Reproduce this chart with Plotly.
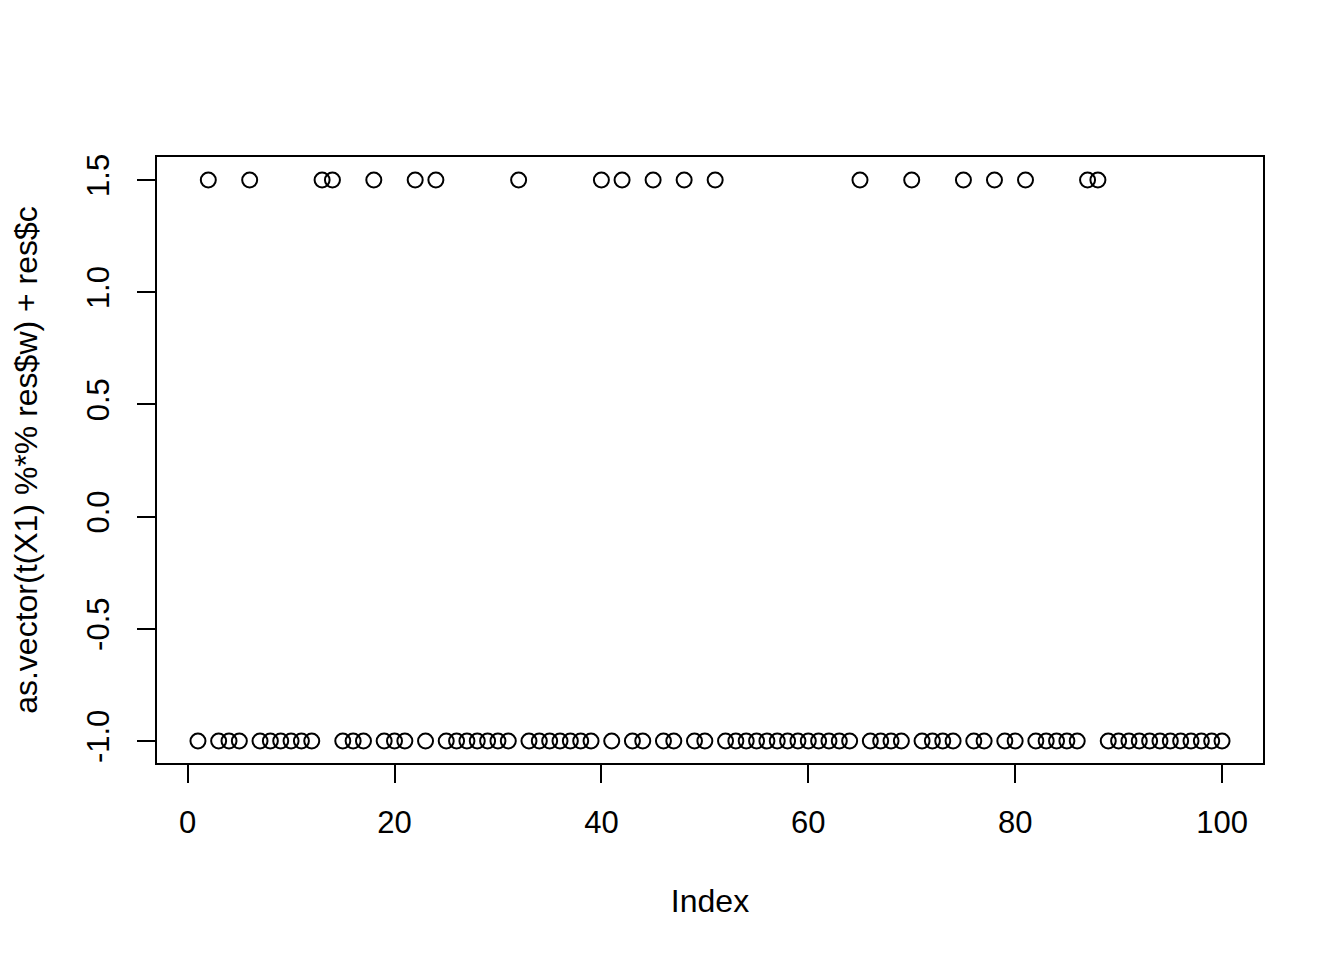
import plotly.graph_objects as go

index = list(range(1, 101))
values = [
    -1, 1.5, -1, -1, -1, 1.5, -1, -1, -1, -1,
    -1, -1, 1.5, 1.5, -1, -1, -1, 1.5, -1, -1,
    -1, 1.5, -1, 1.5, -1, -1, -1, -1, -1, -1,
    -1, 1.5, -1, -1, -1, -1, -1, -1, -1, 1.5,
    -1, 1.5, -1, -1, 1.5, -1, -1, 1.5, -1, -1,
    1.5, -1, -1, -1, -1, -1, -1, -1, -1, -1,
    -1, -1, -1, -1, 1.5, -1, -1, -1, -1, 1.5,
    -1, -1, -1, -1, 1.5, -1, -1, 1.5, -1, -1,
    1.5, -1, -1, -1, -1, -1, 1.5, 1.5, -1, -1,
    -1, -1, -1, -1, -1, -1, -1, -1, -1, -1,
]
x_ticks = [0, 20, 40, 60, 80, 100]
y_ticks = [-1.0, -0.5, 0.0, 0.5, 1.0, 1.5]
y_tick_labels = ["-1.0", "-0.5", "0.0", "0.5", "1.0", "1.5"]

FONT = "Liberation Sans, Arial, Helvetica, sans-serif"
FS = 31
TFS = 32

fig = go.Figure()
fig.add_trace(go.Scatter(
    x=index, y=values, mode="markers",
    marker=dict(symbol="circle-open", size=15, color="black",
                line=dict(color="black", width=2)),
    showlegend=False, hoverinfo="skip",
))

fig.update_layout(
    width=1344, height=960,
    margin=dict(l=149, r=89, t=149, b=205),
    paper_bgcolor="white", plot_bgcolor="white",
    font=dict(family=FONT, size=FS, color="black"),
    xaxis=dict(
        range=[-2.96, 103.96], tickvals=x_ticks,
        ticks="outside", ticklen=18, tickwidth=2, tickcolor="black",
        ticklabelstandoff=13,
        showline=True, linewidth=2, linecolor="black", mirror=True,
        showgrid=False, zeroline=False,
        title=dict(text="Index", standoff=50, font=dict(size=TFS)),
    ),
    yaxis=dict(
        range=[-1.098, 1.6025], tickvals=y_ticks, ticktext=y_tick_labels,
        tickangle=-90,
        ticks="outside", ticklen=18, tickwidth=2, tickcolor="black",
        ticklabelstandoff=16,
        showline=True, linewidth=2, linecolor="black", mirror=True,
        showgrid=False, zeroline=False,
        title=dict(text="as.vector(t(X1) %*% res$w) + res$c", standoff=35, font=dict(size=TFS)),
    ),
)

fig.write_html("out.html")
